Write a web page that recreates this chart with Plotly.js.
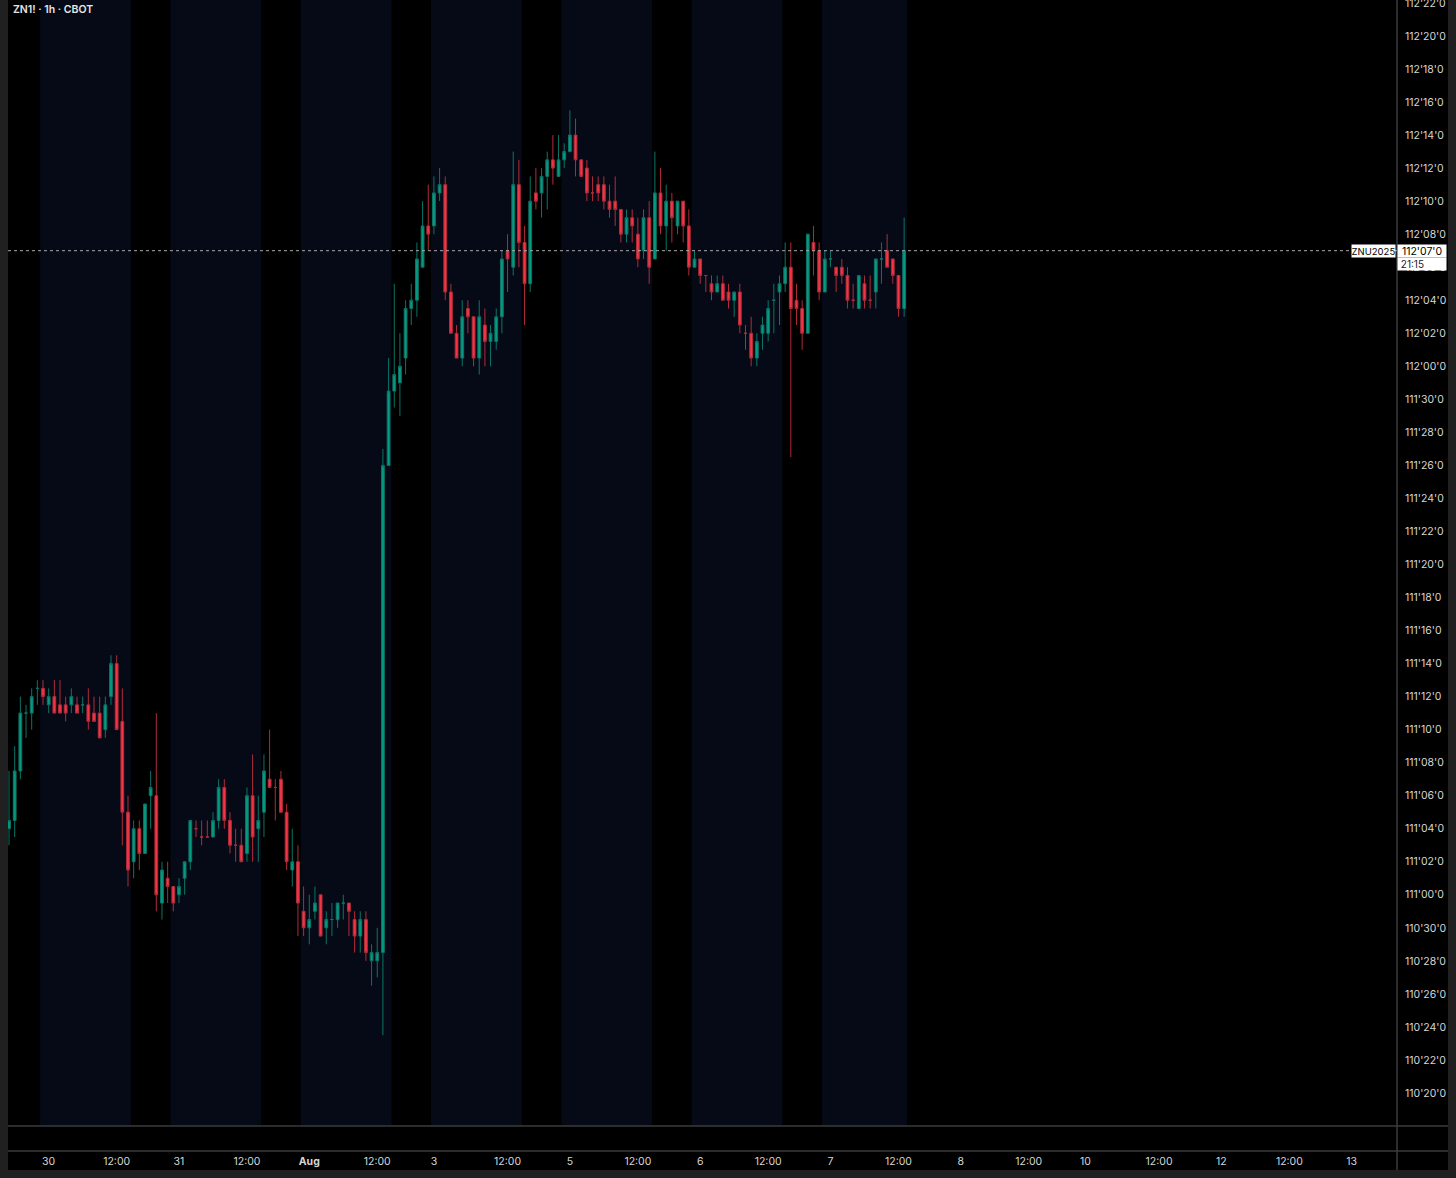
<!DOCTYPE html>
<html><head><meta charset="utf-8">
<script src="https://cdn.plot.ly/plotly-3.0.1.min.js"></script>
<style>
html,body{margin:0;padding:0;background:#202020;width:1456px;height:1178px;overflow:hidden;}
#chart{position:absolute;left:8px;top:0;width:1440px;height:1170px;}
</style></head><body><div id="chart"></div>
<script>
// ---- DATA ----
const symbolTitle = "ZN1! · 1h · CBOT";
const contractName = "ZNU2025";
const countdown = "21:15";
const handle = 110; // OHLC below are in 32nds above 110'00
const open32 = [36,36.5,39.5,43,43,44.5,44.5,43.5,44,43.5,43.5,43.5,43.5,43.5,43.5,43,43,42,44,46,42.5,37,34,
36,34.5,38,38,31.5,33,32.5,32,33,34,36,35.5,35.5,35.5,36.5,38.5,36.5,35,35,34.5,38,36,37,
39,38.5,39,37,33.5,34,31,30,31,32,30,30.5,30.5,31.5,31.5,30.5,29.5,30.5,28,28,28.5,58,62.5,
63,64.5,67.5,68,70,72.5,72.5,74.5,75,68.5,66,64.5,67.5,67,64.5,66.5,65.5,65.5,67,71,70,75,71.5,
69,74.5,74.5,75.5,76.5,75.5,76.5,77,78,76.5,76,74.5,75,75,74,74,73.5,72,73,72,71,73,70.5,
74.5,72.5,74,72.5,74,72.5,70,70.5,69.5,69,68.5,69,68.5,68,68.5,66,66,64.5,66,66,68,68.5,69,
70,68,67.5,66,71.5,71,68.5,70.5,70,70,69.5,68,67.5,69,68,68.5,70.5,71,70.5,69.5,67.5];
const high32 = [39.5,41,44,43.5,44.5,45,45,44.5,45,45,44,44.5,44,44,44.5,44,44,44,46.5,46.5,44.5,38,36.5,
36.5,37.5,39.5,43,34,34,32.5,33,34,36.5,36.5,36.5,36.5,37,39,39,37,36,36,38.5,40.5,38,40.5,
42,39,39.5,37.5,36,35,32.5,32,32.5,32,31,31.5,31.5,32,31.5,31,31,31,29,30,59,64.5,69,
66,68,69,71.5,74,75,75.5,76,75.5,69,66.5,68,68,67,68,67.5,66.5,67.5,71,72,77,76.5,72.5,
75.5,76,76,77,78,78,77.5,79.5,79,76.5,76.5,75.5,75.5,75.5,75,75.5,73.5,73.5,73.5,73,73.5,74,77,
76,75,74.5,74,74,73.5,71,70.5,69.5,69.5,69.5,69.5,69,68.5,69,66.5,67,66,67,68,69,69.5,71.5,
71.5,69,68,72,72.5,71.5,71,71,70,70.5,70,69,69.5,69.5,69.5,70.5,71.5,72,70.5,69.5,73];
const low32 = [35,35.5,39,41.5,42,43.5,43.5,43,43,43,42.5,43,43,43,42,42.5,41.5,41.5,43.5,42,35,32.5,33,
33.5,34.5,36,31,30.5,31.5,31,31.5,32,33.5,35.5,35,35.5,35.5,36,36,34.5,34,34,34,34,34,35.5,
38.5,36.5,37,33.5,32.5,29.5,29.5,29,30.5,29.5,29,29.5,30,30.5,29.5,28.5,28.5,28,26.5,27,23.5,58,61.5,
61,63.5,66.5,67,70,71,72,74,68,66,64.5,64,66,64,63.5,64,64,65,66,68.5,69.5,70,66.5,
68.5,73.5,73,73.5,75,75.5,76,77,75.5,75.5,74,74,74,73.5,73,72.5,71.5,71.5,71.5,70,70.5,69,70.5,
72,71,71.5,72,71.5,69.5,70,69,68.5,68,68.5,68,67.5,67,66,65,64,64,65,65.5,66,66.5,68.5,
58.5,66.5,65,66,69.5,68,68.5,70,68.5,69,67.5,67.5,67.5,67.5,67.5,67.5,69,70,69,67,67];
const close32 = [36.5,39.5,43,43,44,44.5,44,44,43,43,43,44,43,43.5,42.5,42.5,41.5,43.5,46,42,37,33.5,36,
34.5,37.5,38.5,32,33.5,32.5,31.5,32.5,34,36.5,36,35.5,35.5,36.5,38.5,36.5,35,35,34,38,35.5,36.5,39.5,
38.5,38.5,37,34,34,31.5,30,30.5,31.5,29.5,30.5,30.5,31.5,31.5,31,29.5,30.5,28.5,28.5,28.5,58,62.5,63.5,
64,67.5,68,70.5,72.5,72,74.5,75,68.5,66,64.5,67,67,64.5,67,65.5,66,67,70.5,70.5,75,71.5,69,
74,74,75.5,76.5,76,76.5,77,78,76.5,75.5,74.5,74.5,74.5,74,73.5,73.5,72,73,72.5,70.5,73,70,74.5,
72.5,74,73,74,72.5,70,70.5,69.5,69.5,68.5,69,68,68,68.5,66.5,66,64.5,65.5,66.5,67.5,68,69,70,
67.5,67.5,66,72,71,68.5,70.5,70.5,69.5,69.5,68,68,69.5,68,68,70.5,70.5,70,69.5,67.5,71];
// bar index of each trading-session open (17:00 CT)
const sessionStarts = [0,23,46,69,92,115,138];
// time-axis labels: bar index and text
const xTickBars = [7,19,30,42,53,65,75,88,99,111,122,134,145,157,168,180,190,203,214,226,237];
const xTickText = ["30","12:00","31","12:00","<b>Aug</b>","12:00","3","12:00","5","12:00","6","12:00","7","12:00","8","12:00","10","12:00","12","12:00","13"];
const yTickText = ["110'20'0","110'22'0","110'24'0","110'26'0","110'28'0","110'30'0",
"111'00'0","111'02'0","111'04'0","111'06'0","111'08'0","111'10'0","111'12'0","111'14'0",
"111'16'0","111'18'0","111'20'0","111'22'0","111'24'0","111'26'0","111'28'0","111'30'0",
"112'00'0","112'02'0","112'04'0","112'06'0","112'08'0","112'10'0","112'12'0","112'14'0",
"112'16'0","112'18'0","112'20'0","112'22'0"];
const yRange32 = [18.0, 86.18];
const xRange = [-0.18, 245.0];

// ---- helpers ----
const toPrice = v => handle + v / 32;
const parseTick = s => { const p = s.split("'"); return +p[0] + (+p[1] + (+p[2]) / 10) / 32; };
const fmt = price => {
  const whole = Math.floor(price + 1e-9);
  const f = (price - whole) * 32;
  const n = Math.floor(f + 1e-9);
  const h = Math.round((f - n) * 10);
  return whole + "'" + String(n).padStart(2, "0") + "'" + h;
};
const N = open32.length;
const xs = open32.map((_, i) => i);
const lastIdx = N - 1;
const lastClose = toPrice(close32[lastIdx]);

const trace = {
  type: 'candlestick', x: xs,
  open: open32.map(toPrice), high: high32.map(toPrice), low: low32.map(toPrice), close: close32.map(toPrice),
  increasing: {line: {color: '#0a7566', width: 1}, fillcolor: '#089981'},
  decreasing: {line: {color: '#b02c3a', width: 1}, fillcolor: '#f23645'},
  whiskerwidth: 0, hoverinfo: 'skip', showlegend: false
};

const W = 1440, H = 1170, ML = 0, MR = 51, MT = 0, MB = 19;
const plotW = W - ML - MR, plotH = H - MT - MB;
const paneBottom = 25 / plotH;

const shapes = [];
sessionStarts.forEach(s => {
  shapes.push({type: 'rect', xref: 'x', yref: 'y domain', x0: s + 5.5, x1: Math.min(s + 21.5, lastIdx + 0.5),
    y0: 0, y1: 1, fillcolor: '#060a17', line: {width: 0}, layer: 'below'});
});
const lc = '#3b3b3b';
shapes.push({type: 'line', xref: 'paper', yref: 'paper', x0: 0, x1: W / plotW, y0: paneBottom, y1: paneBottom, line: {color: lc, width: 1.5}});
shapes.push({type: 'line', xref: 'paper', yref: 'paper', x0: 0, x1: W / plotW, y0: 0, y1: 0, line: {color: lc, width: 1.5}});
shapes.push({type: 'line', xref: 'paper', yref: 'paper', x0: 1, x1: 1, y0: -MB / plotH, y1: 1, line: {color: lc, width: 1.5}});
shapes.push({type: 'line', xref: 'paper', yref: 'y', x0: 0, x1: 1, y0: lastClose, y1: lastClose, line: {color: '#a9a9a9', width: 1, dash: 'dot'}});

const fontFam = 'Inter, Roboto, "Noto Sans", sans-serif';
const annotations = [
  {xref: 'paper', yref: 'paper', x: 3 / plotW, y: 1 - 9 / plotH, xanchor: 'left', yanchor: 'middle', showarrow: false,
   text: symbolTitle, font: {family: fontFam, size: 10.5, color: '#e6e6e6', weight: 600}},
  {xref: 'paper', yref: 'y', x: 1, y: lastClose, xanchor: 'right', yanchor: 'middle', xshift: -1, showarrow: false,
   text: contractName, bgcolor: '#ffffff', borderpad: 0, width: 43, height: 12,
   font: {family: fontFam, size: 9.5, color: '#000'}},
  {xref: 'paper', yref: 'y', x: 1, y: lastClose, xanchor: 'left', yanchor: 'middle', xshift: 0, showarrow: false,
   text: fmt(lastClose), align: 'center', width: 48, height: 12, bgcolor: '#ffffff', borderpad: 0,
   font: {family: fontFam, size: 10.5, color: '#000'}},
  {xref: 'paper', yref: 'y', x: 1, y: lastClose, xanchor: 'left', yanchor: 'top', yshift: -6, xshift: 0, showarrow: false,
   text: '&nbsp;' + countdown, align: 'left', width: 48, height: 12, bgcolor: '#ffffff', borderpad: 0,
   font: {family: fontFam, size: 10, color: '#222'}}
];

const layout = {
  width: W, height: H, margin: {l: ML, r: MR, t: MT, b: MB, pad: 0},
  paper_bgcolor: '#000', plot_bgcolor: '#000', showlegend: false,
  xaxis: {range: xRange, tickmode: 'array', tickvals: xTickBars, ticktext: xTickText, showgrid: false, zeroline: false,
    showline: false, ticks: '', anchor: 'free', position: 0, rangeslider: {visible: false}, fixedrange: true,
    tickfont: {family: fontFam, size: 10.5, color: '#d6d6d6'}, ticklabelstandoff: 2},
  yaxis: {side: 'right', domain: [paneBottom, 1], range: yRange32.map(toPrice), tickmode: 'array',
    tickvals: yTickText.map(parseTick), ticktext: yTickText, showgrid: false, zeroline: false, showline: false, ticks: '',
    tickfont: {family: fontFam, size: 10.5, color: '#d6d6d6'}, ticklabelstandoff: 7, fixedrange: true,
    ticklabeloverflow: 'allow'},
  shapes: shapes, annotations: annotations, hovermode: false
};
Plotly.newPlot('chart', [trace], layout, {displayModeBar: false, staticPlot: true});
</script></body></html>
